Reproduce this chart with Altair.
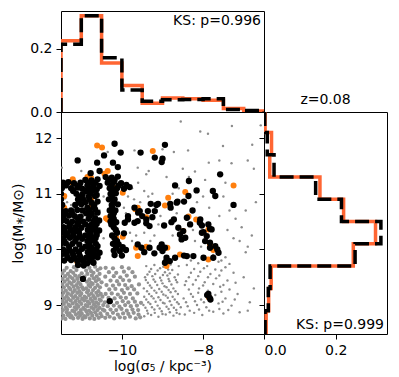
import altair as alt
import pandas as pd

# ---------------- data ----------------
top_edges = [-11.5, -11.0, -10.5, -10.0, -9.5, -9.0, -8.5, -8.0, -7.5, -7.0, -6.5]
top_orange = [0.226, 0.305, 0.155, 0.084, 0.028, 0.044, 0.042, 0.037, 0.011, 0.003]
top_black = [0.215, 0.305, 0.172, 0.070, 0.034, 0.039, 0.040, 0.042, 0.008, 0.005]

right_edges = [8.5, 8.9, 9.3, 9.7, 10.1, 10.5, 10.9, 11.3, 11.7, 12.1, 12.5]
right_orange = [0.006, 0.013, 0.020, 0.249, 0.311, 0.222, 0.156, 0.016, 0.021, 0.003]
right_black = [0.003, 0.012, 0.017, 0.254, 0.326, 0.216, 0.144, 0.028, 0.009, 0.002]

ks_top = "KS: p=0.996"
ks_right = "KS: p=0.999"
z_label = "z=0.08"
x_title = "log(σ₅ / kpc⁻³)"
y_title = "log(M⁎/M⊙)"

# dense part of the grey cloud (lower left)
gray_dense_pts = [
    (-11.48,8.76),(-11.39,8.75),(-11.27,8.78),(-11.2,8.76),(-11.08,8.77),(-10.97,8.75),(-10.9,8.78),(-10.79,8.76),(-10.68,8.75),(-10.57,8.77),
    (-11.44,8.81),(-11.33,8.82),(-11.24,8.8),(-11.13,8.83),(-11.03,8.81),(-10.93,8.8),(-10.84,8.83),(-10.73,8.81),(-10.62,8.82),(-10.5,8.8),
    (-11.49,8.86),(-11.36,8.87),(-11.29,8.85),(-11.17,8.88),(-11.06,8.86),(-10.99,8.85),(-10.87,8.88),(-10.76,8.86),(-10.66,8.87),(-10.53,8.85),
    (-11.45,8.91),(-11.35,8.92),(-11.22,8.9),(-11.12,8.93),(-11.01,8.91),(-10.91,8.92),(-10.81,8.9),(-10.7,8.93),(-10.6,8.91),(-10.47,8.92),
    (-11.49,8.97),(-11.38,8.96),(-11.28,8.98),(-11.16,8.96),(-11.07,8.97),(-10.95,8.95),(-10.85,8.98),(-10.75,8.96),(-10.64,8.97),(-10.55,8.95),
    (-11.43,9.02),(-11.31,9.01),(-11.21,9.03),(-11.11,9.01),(-11.0,9.02),(-10.89,9.0),(-10.8,9.03),(-10.69,9.01),(-10.58,9.02),(-10.46,9.0),
    (-11.47,9.07),(-11.37,9.06),(-11.26,9.08),(-11.14,9.07),(-11.04,9.06),(-10.93,9.08),(-10.84,9.06),(-10.72,9.07),(-10.63,9.05),(-10.52,9.08),
    (-11.42,9.12),(-11.32,9.11),(-11.2,9.13),(-11.09,9.12),(-10.98,9.11),(-10.88,9.13),(-10.77,9.11),(-10.66,9.12),(-10.55,9.1),
    (-11.48,9.17),(-11.36,9.16),(-11.25,9.18),(-11.15,9.16),(-11.03,9.17),(-10.92,9.15),(-10.81,9.18),(-10.7,9.16),(-10.59,9.17),(-10.48,9.15),
    (-11.44,9.22),(-11.33,9.21),(-11.21,9.23),(-11.1,9.22),(-11.0,9.21),(-10.86,9.23),(-10.75,9.21),(-10.63,9.22),(-10.52,9.2),
    (-11.49,9.27),(-11.38,9.26),(-11.27,9.28),(-11.16,9.27),(-11.05,9.25),(-10.95,9.28),(-10.83,9.26),(-10.71,9.27),(-10.58,9.25),
    (-11.43,9.32),(-11.3,9.31),(-11.19,9.33),(-11.08,9.31),(-10.98,9.32),(-10.88,9.3),(-10.78,9.33),(-10.66,9.31),(-10.54,9.32),
    (-11.47,9.37),(-11.35,9.36),(-11.24,9.38),(-11.12,9.36),(-11.02,9.37),(-10.82,9.36),(-10.72,9.38),(-10.6,9.36),
    (-11.41,9.42),(-11.29,9.41),(-11.18,9.43),(-11.07,9.41),(-10.86,9.42),(-10.76,9.4),(-10.64,9.43),(-10.5,9.41),
    (-11.46,9.47),(-11.34,9.46),(-11.22,9.48),(-11.1,9.47),(-10.8,9.46),(-10.69,9.48),(-10.57,9.46),
    (-11.4,9.52),(-11.28,9.51),(-11.15,9.53),(-11.05,9.52),(-10.92,9.51),(-10.74,9.53),(-10.62,9.51),
    (-11.47,9.57),(-11.33,9.56),(-11.2,9.58),(-10.99,9.57),(-10.85,9.56),(-10.7,9.58),(-10.55,9.56),
    (-11.42,9.62),(-11.26,9.61),(-11.12,9.63),(-10.88,9.62),(-10.76,9.61),(-10.6,9.63),
    (-11.36,9.67),(-11.18,9.68),(-10.8,9.67),(-10.66,9.69),(-10.53,9.66),
    (-10.41,8.77),(-10.3,8.79),(-10.19,8.76),(-10.05,8.78),(-9.93,8.77),(-9.8,8.79),(-9.66,8.76),(-9.55,8.78),
    (-10.36,8.84),(-10.22,8.86),(-10.1,8.83),(-9.97,8.85),(-9.84,8.84),(-9.71,8.86),(-9.59,8.83),
    (-10.43,8.9),(-10.28,8.92),(-10.14,8.91),(-10.01,8.93),(-9.88,8.9),(-9.74,8.92),(-9.6,8.91),
    (-10.35,8.98),(-10.2,8.99),(-10.06,8.97),(-9.92,9.0),(-9.78,8.98),(-9.63,8.99),
    (-10.42,9.05),(-10.27,9.06),(-10.12,9.04),(-9.98,9.07),(-9.84,9.05),(-9.68,9.06),(-9.53,9.04),
    (-10.33,9.13),(-10.18,9.12),(-10.03,9.14),(-9.9,9.13),(-9.73,9.12),
    (-10.4,9.2),(-10.25,9.21),(-10.1,9.19),(-9.95,9.22),(-9.8,9.2),(-9.62,9.21),
    (-10.31,9.28),(-10.16,9.29),(-10.0,9.27),(-9.86,9.3),(-9.7,9.28),
    (-10.38,9.36),(-10.22,9.35),(-10.07,9.37),(-9.92,9.36),(-9.76,9.34),(-9.58,9.37),
    (-10.28,9.44),(-10.12,9.43),(-9.97,9.45),(-9.82,9.44),
    (-10.41,9.51),(-10.2,9.52),(-10.04,9.5),(-9.88,9.53),(-9.68,9.51),
    (-10.32,9.59),(-10.14,9.58),(-9.95,9.6),(-9.74,9.59),
    (-10.4,9.67),(-10.22,9.66),(-10.0,9.68),(-9.83,9.66),
]

# sparser grey points
gray_pts = [
    (-9.45,8.8),(-9.28,8.82),(-9.1,8.79),(-8.92,8.83),(-8.73,8.81),(-8.58,8.84),
    (-9.38,8.9),(-9.2,8.92),(-9.02,8.89),(-8.85,8.93),(-8.66,8.91),
    (-9.47,9.0),(-9.3,9.02),(-9.12,8.99),(-8.95,9.03),(-8.78,9.0),(-8.6,9.02),
    (-9.4,9.1),(-9.22,9.12),(-9.05,9.09),(-8.87,9.13),(-8.7,9.1),
    (-9.33,9.2),(-9.15,9.22),(-8.98,9.19),(-8.8,9.23),(-8.62,9.2),
    (-9.46,9.3),(-9.27,9.31),(-9.08,9.29),(-8.9,9.32),(-8.73,9.3),
    (-9.36,9.4),(-9.18,9.42),(-9.0,9.39),(-8.83,9.43),(-8.64,9.41),
    (-9.43,9.5),(-9.25,9.52),(-9.06,9.49),(-8.88,9.53),(-8.7,9.5),
    (-9.32,9.6),(-9.12,9.62),(-8.94,9.59),(-8.76,9.63),
    (-9.4,9.7),(-9.2,9.72),(-8.98,9.69),(-8.8,9.73),(-8.6,9.7),
    (-9.36,8.85),(-9.19,8.86),(-9.0,8.84),(-8.82,8.87),(-8.65,8.86),
    (-9.42,8.95),(-9.26,8.96),(-9.07,8.94),(-8.9,8.97),(-8.72,8.95),(-8.55,8.96),
    (-9.35,9.05),(-9.17,9.06),(-8.99,9.04),(-8.82,9.07),(-8.64,9.05),
    (-9.45,9.15),(-9.27,9.16),(-9.1,9.14),(-8.92,9.17),(-8.75,9.15),
    (-9.38,9.25),(-9.2,9.26),(-9.02,9.24),(-8.85,9.27),(-8.68,9.25),
    (-9.31,9.35),(-9.13,9.36),(-8.95,9.34),(-8.78,9.37),
    (-9.41,9.45),(-9.22,9.46),(-9.03,9.44),(-8.85,9.47),(-8.67,9.45),
    (-9.37,9.55),(-9.18,9.56),(-8.99,9.54),(-8.82,9.57),(-8.62,9.55),
    (-9.28,9.65),(-9.06,9.66),(-8.86,9.64),
    (-8.45,8.83),(-8.22,8.86),(-8.02,8.82),(-7.75,8.88),(-7.5,8.85),(-7.1,8.87),
    (-8.38,8.98),(-8.15,9.0),(-7.92,8.96),(-7.62,9.03),(-7.3,8.99),
    (-8.48,9.12),(-8.25,9.15),(-8.05,9.1),(-7.7,9.18),(-7.45,9.12),(-7.15,9.2),
    (-8.35,9.28),(-8.1,9.3),(-7.88,9.26),(-7.58,9.33),(-7.35,9.28),
    (-8.42,9.43),(-8.18,9.45),(-7.96,9.41),(-7.68,9.48),(-7.4,9.44),
    (-8.3,9.58),(-8.07,9.6),(-7.82,9.56),(-7.55,9.62),(-7.25,9.58),
    (-8.4,9.72),(-8.12,9.75),(-7.9,9.7),(-7.62,9.78),(-7.35,9.74),
    (-8.33,8.9),(-8.1,8.92),(-7.85,8.9),(-7.6,8.93),(-7.38,8.91),
    (-8.42,9.05),(-8.2,9.07),(-7.98,9.05),(-7.78,9.08),(-7.52,9.06),(-7.22,9.1),
    (-8.3,9.2),(-8.12,9.22),(-7.9,9.2),(-7.55,9.24),
    (-8.45,9.36),(-8.25,9.37),(-8.0,9.35),(-7.75,9.38),(-7.5,9.36),(-7.2,9.4),
    (-8.35,9.5),(-8.12,9.52),(-7.88,9.5),(-7.6,9.53),
    (-8.22,9.65),(-7.98,9.66),(-7.7,9.64),(-7.45,9.68),
    (-8.3,9.8),(-8.0,9.82),(-7.55,9.8),
    (-8.2,9.88),(-7.75,9.9),(-7.45,9.86),(-6.95,9.95),(-6.85,9.05),(-6.75,9.3),(-7.0,9.5),(-6.9,8.9),
    (-11.35,10.85),(-11.25,10.8),(-11.4,10.92),(-10.95,10.6),(-10.6,10.0),(-10.55,10.7),(-10.45,10.95),(-10.45,10.2),
    (-9.95,10.75),(-9.85,10.95),(-9.75,11.1),(-9.6,11.2),(-9.45,11.05),(-9.35,10.95),(-9.7,10.9),(-9.9,10.65),(-9.55,10.85),
    (-9.8,10.3),(-9.65,10.25),(-9.45,10.3),(-9.2,10.25),(-9.1,10.45),(-9.3,10.15),(-9.75,10.15),(-9.05,10.6),(-9.25,11.0),
    (-8.9,11.3),(-8.75,11.0),(-8.6,11.1),(-8.5,11.45),(-8.35,11.3),(-8.2,11.4),(-7.86,11.56),(-7.95,11.25),(-8.37,11.78),
    (-8.72,11.75),(-9.0,11.8),(-9.4,11.35),(-9.61,11.47),(-9.69,11.78),(-10.35,11.75),(-10.6,11.05),(-11.48,11.47),(-11.0,11.41),(-9.34,11.41),
    (-7.6,11.6),(-7.45,11.2),(-7.3,11.55),(-7.51,11.86),(-6.79,11.88),(-6.9,11.6),(-6.58,12.23),(-6.75,11.45),(-7.29,12.22),(-8.07,12.12),(-7.88,12.08),(-8.55,12.3),
    (-7.5,10.95),(-7.35,10.7),(-7.2,10.55),(-7.05,10.4),(-6.95,10.7),(-6.8,10.25),(-6.9,10.05),(-7.6,10.6),(-7.4,10.35),(-7.1,10.15),(-6.7,10.85),(-7.25,10.2),
    (-8.15,10.85),(-8.0,10.95),(-7.85,10.75),(-8.2,10.15),(-8.05,10.05),(-8.65,10.65),(-8.75,10.25),(-8.25,10.35),
]

orange_pts = [
    (-10.61,11.87),(-10.49,11.83),(-9.24,11.77),(-10.35,11.41),(-10.43,11.36),(-11.25,11.21),(-10.76,11.29),(-10.85,11.3),
    (-9.67,10.72),(-9.4,10.58),(-10.39,10.56),(-11.42,10.75),(-7.25,11.15),(-8.44,11.03),(-8.86,10.93),(-8.94,10.79),
    (-8.36,10.59),(-8.17,10.54),(-8.49,10.33),(-7.87,10.36),(-7.83,10.09),(-7.75,9.99),(-8.88,10.03),(-8.57,9.91),
    (-7.87,9.82),(-8.9,9.7),(-11.21,11.26),(-10.84,11.26),(-10.18,11.11),(-9.98,11.02),(-11.42,10.96),(-10.76,10.9),
    (-10.8,10.75),(-10.35,10.54),(-9.61,10.75),(-11.46,10.3),(-10.14,10.21),(-9.65,10.03),(-9.61,9.88),(-9.98,10.23),
    (-9.4,10.05),(-11.43,10.32),(-11.1,9.78),(-7.86,9.14),
]

black_pts = [
    # far-left mass
    (-11.45,11.2),(-11.32,11.21),(-11.18,11.19),(-11.02,11.2),(-11.48,11.1),(-11.25,11.1),(-11.1,11.11),(-10.98,11.09),
    (-11.5,11.0),(-11.12,11.0),(-10.97,10.99),(-11.5,10.9),(-11.08,10.9),(-10.96,10.91),(-11.47,10.8),(-11.15,10.8),(-11.0,10.81),
    (-11.5,10.7),(-11.38,10.69),(-11.25,10.7),(-11.1,10.71),(-10.97,10.7),(-11.45,10.6),(-11.3,10.61),(-11.16,10.6),(-11.02,10.59),
    (-11.5,10.5),(-11.36,10.51),(-11.22,10.5),(-11.08,10.49),(-10.95,10.5),(-11.44,10.4),(-11.3,10.41),(-11.15,10.4),(-11.0,10.39),
    (-11.5,10.3),(-11.35,10.29),(-11.2,10.3),(-11.06,10.31),(-11.46,10.2),(-11.28,10.21),(-11.12,10.2),(-10.98,10.19),
    (-11.5,10.1),(-11.38,10.11),(-11.22,10.1),(-11.05,10.09),(-11.45,10.0),(-11.3,9.99),(-11.14,10.0),(-10.98,10.01),
    (-11.5,9.9),(-11.36,9.91),(-11.2,9.9),(-11.04,9.89),(-11.42,9.8),(-11.25,9.81),(-11.1,9.8),(-10.96,9.79),(-11.08,9.72),(-10.94,9.71),
    (-11.38,11.15),(-11.05,11.15),(-11.2,11.05),(-11.04,10.95),(-11.06,10.85),(-11.42,10.65),(-11.23,10.65),(-11.08,10.55),
    (-11.43,10.55),(-11.28,10.45),(-11.08,10.45),(-11.42,10.35),(-11.27,10.35),(-11.12,10.35),(-11.38,10.25),(-11.2,10.25),
    (-11.04,10.25),(-11.42,10.15),(-11.3,10.05),(-11.15,10.15),(-11.38,9.95),(-11.22,9.95),(-11.06,9.95),(-11.34,9.85),
    (-11.17,9.85),(-11.02,9.85),
    # second column
    (-10.9,11.25),(-10.75,11.24),(-10.6,11.26),(-10.85,11.15),(-10.7,11.16),(-10.55,11.14),(-10.88,11.05),(-10.72,11.06),
    (-10.82,10.95),(-10.66,10.96),(-10.9,10.85),(-10.75,10.84),(-10.6,10.86),(-10.85,10.75),(-10.7,10.76),
    (-10.88,10.65),(-10.74,10.64),(-10.6,10.66),(-10.82,10.55),(-10.66,10.56),(-10.9,10.45),(-10.76,10.44),(-10.62,10.46),
    (-10.84,10.35),(-10.7,10.36),(-10.56,10.34),(-10.9,10.25),(-10.76,10.24),(-10.62,10.26),(-10.85,10.15),(-10.7,10.16),
    (-10.9,10.05),(-10.76,10.04),(-10.6,10.06),(-10.84,9.95),(-10.7,9.96),(-10.55,9.94),(-10.88,9.85),(-10.74,9.84),(-10.6,9.86),
    (-10.85,9.75),(-10.7,9.76),
    (-10.8,11.2),(-10.65,11.2),(-10.8,11.1),(-10.62,11.08),(-10.78,11.0),(-10.62,10.98),(-10.8,10.9),(-10.68,10.8),
    (-10.8,10.7),(-10.66,10.72),(-10.8,10.6),(-10.7,10.5),(-10.56,10.52),(-10.8,10.4),(-10.66,10.4),(-10.78,10.3),
    (-10.63,10.3),(-10.8,10.2),(-10.65,10.2),(-10.8,10.1),(-10.64,10.1),(-10.78,10.0),(-10.63,10.0),(-10.8,9.9),
    (-10.66,9.9),(-10.78,9.8),
    # third column
    (-10.4,11.3),(-10.25,11.29),(-10.1,11.31),(-10.35,11.2),(-10.2,11.21),(-10.02,11.19),(-9.89,11.16),(-9.81,11.12),
    (-10.3,11.1),(-10.12,11.1),(-9.95,11.09),(-10.28,11.0),(-10.15,11.01),(-10.32,10.9),(-10.18,10.9),(-10.25,10.8),(-10.1,10.81),
    (-10.3,10.7),(-10.16,10.7),(-10.22,10.6),(-10.28,10.5),(-10.14,10.49),(-10.2,10.4),(-10.12,10.3),(-9.95,10.29),(-10.18,10.2),
    (-10.22,10.1),(-10.08,10.09),(-10.2,9.98),(-10.05,9.97),(-9.9,9.99),(-10.18,9.9),(-10.0,9.89),(-9.85,10.54),(-9.93,10.48),
    (-10.32,11.25),(-10.18,11.25),(-10.25,11.15),(-10.08,11.15),(-10.22,11.05),(-10.25,10.95),(-10.2,10.85),(-10.24,10.75),
    (-10.2,10.65),(-10.28,10.6),(-10.2,10.55),(-10.26,10.45),(-10.15,10.35),(-10.24,10.25),(-10.12,10.15),(-10.14,10.04),(-9.98,10.04),
    # upper scattered
    (-10.18,11.9),(-11.09,11.6),(-10.44,11.69),(-10.03,11.74),(-9.54,11.74),(-9.19,11.65),(-10.61,11.56),(-10.22,11.56),
    (-10.1,11.48),(-10.77,11.37),(-10.55,11.41),(-8.94,11.88),(-9.0,11.63),(-9.02,11.57),(-7.58,11.35),(-8.69,11.15),
    (-8.35,11.23),(-8.16,11.06),(-7.76,11.05),(-7.7,10.96),(-7.25,10.8),(-8.63,10.86),(-8.47,10.86),(-8.81,10.82),
    # cluster around -9.4
    (-9.11,10.82),(-9.19,10.69),(-9.29,10.82),(-9.6,10.66),(-9.85,10.6),(-9.15,10.8),(-9.36,10.69),(-9.56,10.69),(-9.69,10.75),
    (-9.4,10.54),(-9.32,10.42),(-9.4,10.47),(-9.61,10.51),(-9.69,10.48),(-9.61,10.09),(-9.52,10.03),(-9.32,10.03),(-9.07,10.03),
    (-9.45,9.95),(-9.2,9.93),(-9.5,10.6),(-9.25,10.58),
    # cluster around -8.7
    (-8.36,10.96),(-8.65,10.84),(-8.8,10.75),(-8.26,10.7),(-8.07,10.54),(-8.08,10.48),(-8.4,10.57),(-8.72,10.54),(-8.78,10.49),
    (-8.96,10.43),(-8.61,10.39),(-8.49,10.33),(-8.57,10.27),(-8.44,10.21),(-8.53,10.18),(-8.32,10.45),(-9.02,10.09),(-8.94,10.03),
    (-9.0,9.97),(-8.69,9.85),(-8.82,9.79),(-8.94,9.76),(-8.9,9.85),(-8.4,9.88),(-8.24,9.88),(-8.47,9.89),(-8.9,9.8),
    # cluster around -7.9
    (-8.03,10.43),(-7.87,10.45),(-7.79,10.36),(-8.03,10.3),(-7.91,10.24),(-7.95,10.15),(-7.83,10.12),(-7.7,10.06),(-7.83,10.03),
    (-7.62,9.94),(-7.75,9.85),(-7.99,9.85),(-7.65,10.0),(-7.99,10.31),(-7.83,10.37),
    # low points
    (-10.96,9.47),(-10.3,9.07),(-7.9,9.18),(-7.84,9.13),(-7.87,9.2),(-7.82,9.1),
]

# ---------------- layout constants ----------------
W, H = 203, 222      # scatter panel
HT = 101             # top histogram height
WR = 123             # right histogram width
XDOM = [-11.5, -6.5]
YDOM = [8.48, 12.47]
FONT = "DejaVu Sans"
ORANGE_LINE = "#ff6633"


def step_rows(edges, heights):
    pts = [(edges[0], 0.0)]
    for i, h in enumerate(heights):
        pts.append((edges[i], h))
        pts.append((edges[i + 1], h))
    pts.append((edges[-1], 0.0))
    return pd.DataFrame([{"edge": e, "val": v, "i": k} for k, (e, v) in enumerate(pts)])


xs = alt.Scale(domain=XDOM, nice=False, zero=False)
ys = alt.Scale(domain=YDOM, nice=False, zero=False)

# ---------------- top histogram ----------------
top_y = alt.Y("val:Q", scale=alt.Scale(domain=[0, 0.32], nice=False),
              axis=alt.Axis(values=[0.0, 0.2], format=".1f", title=None))
top_x = alt.X("edge:Q", scale=xs, axis=None)
top_o = alt.Chart(step_rows(top_edges, top_orange)).mark_line(
    color=ORANGE_LINE, strokeWidth=3.5, clip=True).encode(x=top_x, y=top_y, order="i:Q")
top_b = alt.Chart(step_rows(top_edges, top_black)).mark_line(
    color="black", strokeWidth=3.5, strokeDash=[14, 6], clip=True).encode(x=top_x, y=top_y, order="i:Q")
top_t = alt.Chart(pd.DataFrame({"t": [ks_top]})).mark_text(
    align="right", baseline="top", fontSize=14, font=FONT, color="black").encode(
    x=alt.value(W - 3), y=alt.value(3), text="t:N")
top = alt.layer(top_o, top_b, top_t).properties(width=W, height=HT)

# ---------------- scatter ----------------
sx = alt.X("x:Q", scale=xs, axis=alt.Axis(values=[-10, -8], format="d", title=x_title, titlePadding=2))
sy = alt.Y("y:Q", scale=ys, axis=alt.Axis(values=[9, 10, 11, 12], format="d", title=y_title, titlePadding=9))


def pts_layer(pts, color, size):
    df = pd.DataFrame(pts, columns=["x", "y"])
    return alt.Chart(df).mark_circle(color=color, size=size, opacity=1, clip=True).encode(x=sx, y=sy)


scatter = alt.layer(
    pts_layer(gray_dense_pts, "#939393", 18),
    pts_layer(gray_pts, "#8c8c8c", 6),
    pts_layer(orange_pts, "#ff7f0e", 36),
    pts_layer(black_pts, "#000000", 40),
).properties(width=W, height=H)

# ---------------- right histogram ----------------
r_x = alt.X("val:Q", scale=alt.Scale(domain=[0, 0.343], nice=False),
            axis=alt.Axis(values=[0.0, 0.2], format=".1f", title=None))
r_y = alt.Y("edge:Q", scale=ys, axis=alt.Axis(values=[9, 10, 11, 12], labels=False, title=None))
r_o = alt.Chart(step_rows(right_edges, right_orange)).mark_line(
    color=ORANGE_LINE, strokeWidth=3.5, clip=True).encode(x=r_x, y=r_y, order="i:Q")
r_b = alt.Chart(step_rows(right_edges, right_black)).mark_line(
    color="black", strokeWidth=3.5, strokeDash=[14, 6], clip=True).encode(x=r_x, y=r_y, order="i:Q")
r_t = alt.Chart(pd.DataFrame({"t": [ks_right]})).mark_text(
    align="right", baseline="alphabetic", fontSize=14, font=FONT, color="black").encode(
    x=alt.value(WR - 3), y=alt.value(H - 5), text="t:N")
right = alt.layer(r_o, r_b, r_t).properties(
    width=WR, height=H,
    title=alt.TitleParams(z_label, fontSize=14, font=FONT, fontWeight="normal", color="black", offset=5))

chart = alt.vconcat(
    top,
    alt.hconcat(scatter, right, spacing=0, bounds="flush"),
    spacing=0, bounds="flush",
).properties(
    padding={"left": 2, "top": 2, "right": 2, "bottom": 2}
).configure_view(
    stroke="black", strokeWidth=1
).configure_axis(
    domain=False, grid=False, tickColor="black", tickSize=5, tickWidth=1,
    labelColor="black", labelFont=FONT, labelFontSize=14, labelPadding=4,
    titleFont=FONT, titleFontSize=14, titleFontWeight="normal", titleColor="black",
)

chart.save("out.html", embed_options={"renderer": "svg", "actions": False})
